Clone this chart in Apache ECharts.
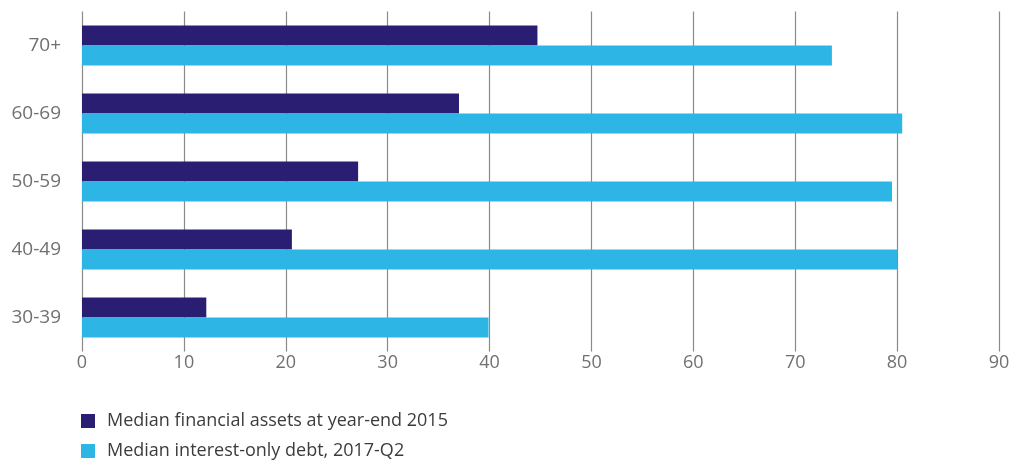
<!DOCTYPE html>
<html>
<head>
<meta charset="utf-8">
<script src="https://cdn.jsdelivr.net/npm/echarts@6/dist/echarts.min.js"></script>
<style>
  html, body { margin: 0; padding: 0; background: #fff; }
  #chart { width: 1013px; height: 462px; }
</style>
</head>
<body>
<div id="chart"></div>
<script>
// Age groups, listed bottom to top
const categories = ['30-39', '40-49', '50-59', '60-69', '70+'];
const seriesNames = ['Median financial assets at year-end 2015', 'Median interest-only debt, 2017-Q2'];
const financialAssets = [12.2, 20.6, 27.1, 37.0, 44.7];
const interestOnlyDebt = [39.9, 80.0, 79.5, 80.5, 73.6];
const xTicks = { min: 0, max: 90, interval: 10 };

const FONT = '"Open Sans", "Noto Sans", sans-serif';
const chart = echarts.init(document.getElementById('chart'), null, { renderer: 'canvas' });

// One legend per series so the entries stack vertically
const legendBase = {
  left: 76,
  itemWidth: 14,
  itemHeight: 14,
  itemGap: 16,
  icon: 'rect',
  textStyle: { fontFamily: FONT, fontSize: 18, color: '#3c3c3c', padding: [0, 0, 0, 7] }
};

chart.setOption({
  animation: false,
  backgroundColor: '#ffffff',
  grid: { left: 82, right: 14, top: 11.5, height: 340, containLabel: false },
  legend: [
    Object.assign({ top: 407, data: [seriesNames[0]] }, legendBase),
    Object.assign({ top: 437, data: [seriesNames[1]] }, legendBase)
  ],
  xAxis: {
    type: 'value',
    min: xTicks.min,
    max: xTicks.max,
    interval: xTicks.interval,
    axisLine: { show: false },
    axisTick: { show: false },
    axisLabel: { fontFamily: FONT, fontSize: 18, color: '#707070', margin: 2 },
    splitLine: { show: true, lineStyle: { color: '#8a8a8a', width: 1.2 } }
  },
  yAxis: {
    type: 'category',
    data: categories,
    axisLine: { show: false },
    axisTick: { show: false },
    axisLabel: { fontFamily: FONT, fontSize: 19, color: '#707070', margin: 21 }
  },
  series: [
    {
      name: seriesNames[0],
      type: 'bar',
      data: financialAssets,
      barWidth: 20,
      barGap: '0%',
      barCategoryGap: '41%',
      itemStyle: { color: '#2a1e72' }
    },
    {
      name: seriesNames[1],
      type: 'bar',
      data: interestOnlyDebt,
      barWidth: 20,
      barGap: '0%',
      itemStyle: { color: '#2db5e5' }
    }
  ]
});
</script>
</body>
</html>
